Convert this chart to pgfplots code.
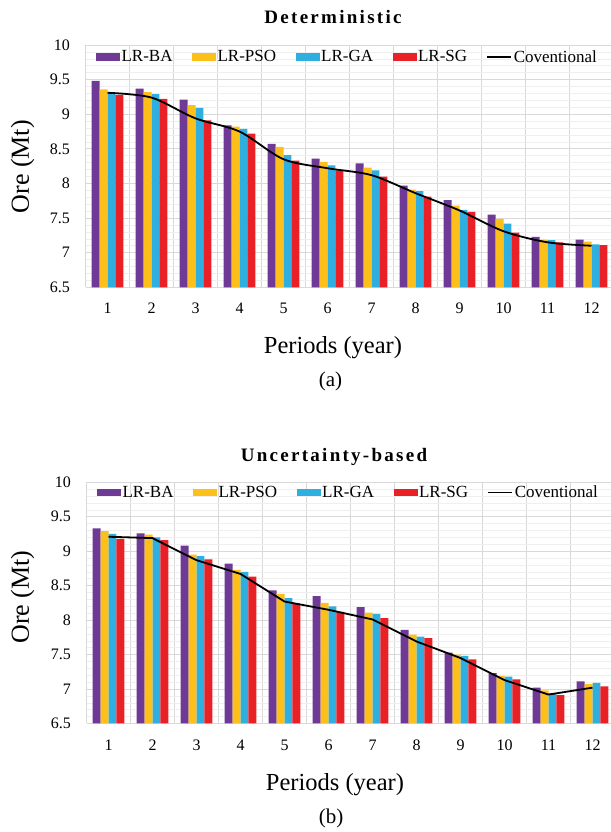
\documentclass[border=0pt]{standalone}
\usepackage{fontspec}
\setmainfont{Liberation Serif}
\newfontfamily\titlefont[LetterSpace=12]{Liberation Serif}
\usepackage{pgfplots}
\pgfplotsset{compat=1.18}
\definecolor{cBA}{HTML}{6F3A96}
\definecolor{cPSO}{HTML}{FDBF1A}
\definecolor{cGA}{HTML}{2FAEE0}
\definecolor{cSG}{HTML}{EA2027}
\definecolor{gridc}{HTML}{D9D9D9}
\definecolor{gridm}{HTML}{EFEFEF}
\pgfplotsset{
  orechart/.style={
    scale only axis, width=528pt,
    xmin=0.5, xmax=12.5, ymin=6.5, ymax=10,
    xtick={1,...,12}, ytick={6.5,7,...,10},
    minor xtick={0.5,1.5,...,12.5},
    minor y tick num=4,
    major tick length=0pt, minor tick length=0pt,
    xminorgrids=true, ymajorgrids=true, yminorgrids=true,
    major grid style={draw=gridc, line width=0.8pt},
    minor y grid style={draw=gridm, line width=0.6pt},
    minor x grid style={draw=gridc, line width=0.8pt},
    axis line style={draw=none},
    extra y ticks={6.5}, extra y tick labels={},
    extra y tick style={grid style={draw=gray!45, line width=0.9pt}},
    /pgf/number format/assume math mode=true,
    tick label style={font=\fontsize{16}{16}\selectfont},
    xticklabel style={anchor=base, yshift=-26.7pt},
    yticklabel style={anchor=east, xshift=-12pt},
    legend columns=5,
    legend style={draw=none, fill=none, inner sep=0pt, outer sep=0pt,
      font=\fontsize{17}{17}\selectfont,
      nodes={inner xsep=1.5pt, inner ysep=0pt},
      /tikz/every even column/.append style={column sep=18pt},
      at={(axis description cs:0.02,1)}, anchor=west},
    legend image code/.code={\fill[##1] (0pt,-3.7pt) rectangle (24pt,3.7pt);},
    clip=true,
  },
  barA/.style={ybar, bar width=7.9pt, bar shift=-11.85pt, fill=cBA, draw=none},
  barB/.style={ybar, bar width=7.9pt, bar shift=-3.95pt, fill=cPSO, draw=none},
  barC/.style={ybar, bar width=7.9pt, bar shift=3.95pt, fill=cGA, draw=none},
  barD/.style={ybar, bar width=7.9pt, bar shift=11.85pt, fill=cSG, draw=none},
  conv/.style={black, line width=1.8pt, mark=none,
    legend image code/.code={\draw[black, line width=1.6pt] (0pt,0pt) -- (24pt,0pt);}},
}
\begin{document}
\begin{tikzpicture}
\useasboundingbox (0,0) rectangle (610pt,832pt);
% ---------------- (a) Deterministic ----------------
\begin{axis}[orechart, height=242.3pt, at={(85.5pt,544.7pt)}, anchor=south west,
  legend style={at={(axis description cs:0.02,0.951)}}]
\addplot[barA] coordinates {(1,9.48) (2,9.37) (3,9.21) (4,8.84) (5,8.57) (6,8.36) (7,8.29) (8,7.97) (9,7.76) (10,7.55) (11,7.23) (12,7.19)};
\addplot[barB] coordinates {(1,9.36) (2,9.32) (3,9.13) (4,8.82) (5,8.53) (6,8.31) (7,8.23) (8,7.91) (9,7.68) (10,7.49) (11,7.19) (12,7.16)};
\addplot[barC] coordinates {(1,9.32) (2,9.29) (3,9.09) (4,8.79) (5,8.41) (6,8.26) (7,8.19) (8,7.89) (9,7.62) (10,7.42) (11,7.18) (12,7.12)};
\addplot[barD] coordinates {(1,9.28) (2,9.22) (3,8.91) (4,8.72) (5,8.33) (6,8.19) (7,8.10) (8,7.81) (9,7.59) (10,7.29) (11,7.15) (12,7.11)};
\addplot[conv, smooth] coordinates {(1,9.31) (2,9.24) (3,8.94) (4,8.75) (5,8.35) (6,8.22) (7,8.12) (8,7.86) (9,7.61) (10,7.31) (11,7.15) (12,7.10)};
\legend{LR-BA, LR-PSO, LR-GA, LR-SG, Coventional}
\end{axis}
\node[font=\titlefont\bfseries\fontsize{19}{19}\selectfont, anchor=base] at (333pt,808pt) {Deterministic};
\node[rotate=90, font=\fontsize{26}{26}\selectfont, anchor=center] at (22.5pt,665.3pt) {Ore (Mt)};
\node[font=\fontsize{24.5}{24.5}\selectfont, anchor=base] at (333pt,478.7pt) {Periods (year)};
\node[font=\fontsize{21}{21}\selectfont, anchor=base] at (330.5pt,445.3pt) {(a)};
% ---------------- (b) Uncertainty-based ----------------
\begin{axis}[orechart, height=241.2pt, at={(86.5pt,108.5pt)}, anchor=south west,
  legend style={at={(axis description cs:0.02,0.958)}}]
\addplot[barA] coordinates {(1,9.33) (2,9.26) (3,9.08) (4,8.82) (5,8.43) (6,8.35) (7,8.19) (8,7.86) (9,7.53) (10,7.23) (11,7.02) (12,7.11)};
\addplot[barB] coordinates {(1,9.29) (2,9.24) (3,8.95) (4,8.73) (5,8.38) (6,8.25) (7,8.11) (8,7.79) (9,7.50) (10,7.19) (11,6.98) (12,7.07)};
\addplot[barC] coordinates {(1,9.25) (2,9.20) (3,8.93) (4,8.70) (5,8.32) (6,8.20) (7,8.09) (8,7.76) (9,7.48) (10,7.18) (11,6.94) (12,7.09)};
\addplot[barD] coordinates {(1,9.18) (2,9.16) (3,8.88) (4,8.63) (5,8.24) (6,8.12) (7,8.03) (8,7.74) (9,7.43) (10,7.14) (11,6.91) (12,7.04)};
\addplot[conv, sharp plot] coordinates {(1,9.21) (2,9.19) (3,8.87) (4,8.67) (5,8.27) (6,8.15) (7,8.01) (8,7.69) (9,7.45) (10,7.13) (11,6.92) (12,7.02)};
\legend{LR-BA, LR-PSO, LR-GA, LR-SG, Coventional}
\end{axis}
\node[font=\titlefont\bfseries\fontsize{19}{19}\selectfont, anchor=base] at (334pt,370pt) {Uncertainty-based};
\node[rotate=90, font=\fontsize{26}{26}\selectfont, anchor=center] at (22.5pt,234.8pt) {Ore (Mt)};
\node[font=\fontsize{24.5}{24.5}\selectfont, anchor=base] at (335pt,41.7pt) {Periods (year)};
\node[font=\fontsize{21}{21}\selectfont, anchor=base] at (331pt,9pt) {(b)};
\end{tikzpicture}
\end{document}
